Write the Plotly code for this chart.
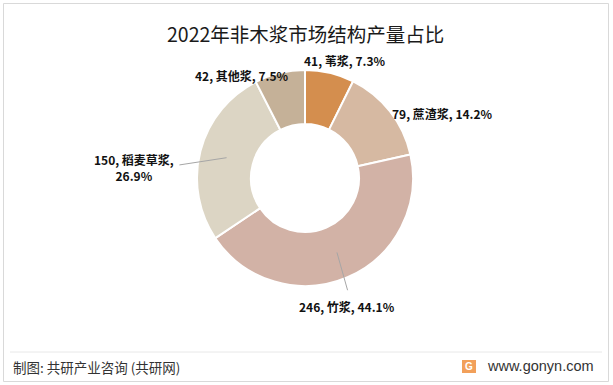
import math
import plotly.graph_objects as go

# ---- data ----
categories = ["苇浆", "蔗渣浆", "竹浆", "稻麦草浆", "其他浆"]
values = [41, 79, 246, 150, 42]
percents = ["7.3%", "14.2%", "44.1%", "26.9%", "7.5%"]
colors = ["#D48E4E", "#D6B9A2", "#D2B2A6", "#DCD5C4", "#C5B198"]

W, H = 613, 385
CX, CY, R = 305, 178, 108
HOLE = 0.5


def px(x):
    return x / W


def py(y):
    return 1 - y / H


fig = go.Figure()
fig.add_trace(go.Pie(
    labels=categories, values=values, sort=False, direction="clockwise",
    rotation=0, hole=HOLE, textinfo="none", hoverinfo="label+value+percent",
    marker=dict(colors=colors, line=dict(color="white", width=2)),
    domain=dict(x=[px(CX - R), px(CX + R)], y=[py(CY + R), py(CY - R)]),
    showlegend=False,
))

# label placement derived from slice mid-angles
total = sum(values)
cum = 0
mids = []
for v in values:
    mids.append((cum + v / 2) / total * 2 * math.pi)
    cum += v

# per-label style: (xshift, yshift, xanchor)
label_style = {
    "苇浆": (15, -12, "center"),
    "蔗渣浆": (0, 2, "left"),
    "竹浆": (-1, 29, "center"),
    "稻麦草浆": (-66, 17, "center"),
    "其他浆": (-38, 2, "center"),
}

annotations = []
shapes = []
font_lbl = dict(family="Noto Sans CJK SC, sans-serif", size=12, color="#111111")
for cat, v, p, a in zip(categories, values, percents, mids):
    ox = CX + R * math.sin(a)
    oy = CY - R * math.cos(a)
    dx, dy, xa = label_style[cat]
    if cat == "稻麦草浆":
        text = f"<b>{v}, {cat},</b><br><b>{p}</b>"
    else:
        text = f"<b>{v}, {cat}, {p}</b>"
    lx, ly = ox + dx, oy + dy
    annotations.append(dict(
        x=px(lx), y=py(ly), xref="paper", yref="paper", text=text,
        showarrow=False, xanchor=xa, yanchor="middle", font=font_lbl,
        align="center",
    ))
    # leader lines for the larger slices
    if cat in ("竹浆", "稻麦草浆"):
        sx = CX + 81 * math.sin(a)
        sy = CY - 81 * math.cos(a)
        if cat == "竹浆":
            ex, ey = lx + 1, ly - 16
        else:
            ex, ey = lx + 45, ly - 3
        shapes.append(dict(type="line", xref="paper", yref="paper",
                           x0=px(sx), y0=py(sy), x1=px(ex), y1=py(ey),
                           line=dict(color="#A6A6A6", width=1)))

# title
annotations.append(dict(
    x=px(CX), y=py(33), xref="paper", yref="paper",
    text="2022年非木浆市场结构产量占比", showarrow=False,
    xanchor="center", yanchor="middle",
    font=dict(family="Noto Sans CJK SC, sans-serif", size=19.5, color="#1a1a1a"),
))

# footer
annotations.append(dict(
    x=px(11), y=py(367), xref="paper", yref="paper",
    text="制图: 共研产业咨询 (共研网)", showarrow=False,
    xanchor="left", yanchor="middle",
    font=dict(family="Noto Sans CJK SC, sans-serif", size=13.5, color="#333333"),
))
annotations.append(dict(
    x=px(596), y=py(366), xref="paper", yref="paper",
    text="www.gonyn.com", showarrow=False,
    xanchor="right", yanchor="middle",
    font=dict(family="Liberation Sans, Arial, sans-serif", size=14.5, color="#333333"),
))
annotations.append(dict(
    x=px(469), y=py(366.5), xref="paper", yref="paper",
    text="<b>G</b>", showarrow=False, xanchor="center", yanchor="middle",
    font=dict(family="Liberation Sans, sans-serif", size=10, color="white"),
))

# frame, separator, logo
shapes += [
    dict(type="rect", xref="paper", yref="paper", x0=px(3.5), y0=py(381.5),
         x1=px(608.5), y1=py(3.5), line=dict(color="#D9D9D9", width=1)),
    dict(type="line", xref="paper", yref="paper", x0=px(10), y0=py(352),
         x1=px(602), y1=py(352), line=dict(color="#E8E8E8", width=1)),
    dict(type="rect", xref="paper", yref="paper", x0=px(462), y0=py(373),
         x1=px(476), y1=py(360), fillcolor="#F2A05A", line=dict(width=0)),
]

fig.update_layout(
    width=W, height=H, margin=dict(l=0, r=0, t=0, b=0),
    paper_bgcolor="white", plot_bgcolor="white",
    annotations=annotations, shapes=shapes,
)

fig.write_html(
    "out.html",
    config={"displayModeBar": False},
    post_script="document.body.style.margin='0';document.body.style.overflow='hidden';",
)
